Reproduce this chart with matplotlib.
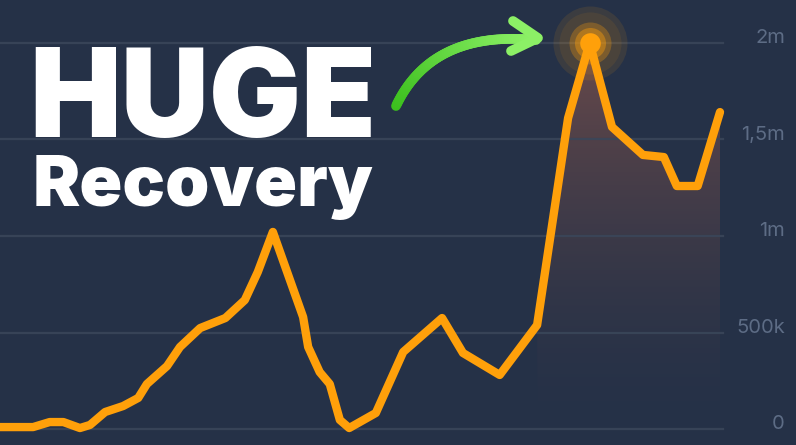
import matplotlib
matplotlib.use("Agg")
import matplotlib.pyplot as plt
from matplotlib.collections import LineCollection
from matplotlib.colors import to_rgb
import numpy as np

# data (k)
days = [0, 4.6, 6.9, 8.8, 11.1, 12.5, 14.6, 17.1, 19.2, 20.4, 23.2, 25.0, 27.8,
        31.3, 34.0, 35.8, 37.9, 42.1, 42.8, 44.4, 45.8, 47.2, 48.5, 52.2, 56.0,
        61.4, 64.3, 69.4, 74.6, 78.9, 81.9, 85.0, 89.3, 92.2, 94.0, 96.9, 100.0]
values = [10, 10, 36, 36, 5, 21, 88, 119, 161, 233, 326, 425, 523,
          575, 668, 813, 1021, 580, 425, 295, 233, 47, 5, 83, 399,
          575, 394, 280, 539, 1611, 2000, 1565, 1420, 1409, 1259, 1259, 1642]
tick_vals = [0, 500, 1000, 1500, 2000]
tick_labels = ["0", "500k", "1m", "1,5m", "2m"]
fill_from = 28  # index where the shaded area begins

bg = "#253147"
grid_c = "#3a4659"
lab_c = "#5d6c85"
orange = "#ffa00a"

W, H = 796, 445
fig = plt.figure(figsize=(W / 100, H / 100), dpi=100)
fig.patch.set_facecolor(bg)
ax = fig.add_axes([0, 0, 1, 1])
ax.set_facecolor(bg)
ax.set_xlim(0, W / 7.2)
ax.set_ylim((429 - 445) * 500 / 96.5, 429 * 500 / 96.5)
ax.axis("off")

for v, t in zip(tick_vals, tick_labels):
    ax.axhline(v, xmin=0, xmax=723 / W, color=grid_c, lw=1.6, alpha=0.9, zorder=3)
    ax.text(785 / 7.2, v + 25, t, ha="right", va="center", color=lab_c,
            fontsize=14.5, family=["Inter", "DejaVu Sans"])

# gradient fill under the recovery part
x_f = np.array(days[fill_from:])
y_f = np.array(values[fill_from:])
poly = ax.fill_between(x_f, y_f, 0, color="none", lw=0)
top = np.array(to_rgb("#6a4a4a"))
base = np.array(to_rgb(bg))
n = 200
t = np.linspace(1, 0, n)[:, None]
grad = (base + (top - base) * t ** 1.6)[:, None, :]
im = ax.imshow(grad, extent=[x_f[0], x_f[-1], 0, max(values)], aspect="auto",
               zorder=2, origin="upper")
im.set_clip_path(poly.get_paths()[0], transform=ax.transData)

ax.plot(days, values, color=orange, lw=6, solid_joinstyle="round",
        solid_capstyle="round", zorder=4)

# glow on the peak
i_pk = int(np.argmax(values))
for s, a in [(2840, 0.10), (2000, 0.08), (914, 0.28), (500, 0.4)]:
    ax.scatter(days[i_pk], values[i_pk], s=s, color=orange, alpha=a, lw=0, zorder=5)
ax.scatter(days[i_pk], values[i_pk], s=220, color=orange, lw=0, zorder=6)

# overlay in pixel coordinates for the title and arrow
ov = fig.add_axes([0, 0, 1, 1])
ov.set_xlim(0, W)
ov.set_ylim(H, 0)
ov.axis("off")
ov.patch.set_alpha(0)

ov.text(29, 137, "HUGE", color="white", fontsize=88, fontweight=900,
        family=["Inter", "DejaVu Sans"], va="baseline", ha="left")
ov.text(33, 206, "Recovery", color="white", fontsize=51, fontweight=900,
        family=["Inter", "DejaVu Sans"], va="baseline", ha="left")

# curved green arrow
p0 = np.array([396, 106])
pc = np.array([432, 30])
p1 = np.array([536, 40])
tt = np.linspace(0, 1, 80)[:, None]
pts = (1 - tt) ** 2 * p0 + 2 * (1 - tt) * tt * pc + tt ** 2 * p1
segs = np.stack([pts[:-1], pts[1:]], axis=1)
c0 = np.array(to_rgb("#3cbf1e"))
c1 = np.array(to_rgb("#8cf066"))
cols = c0 + (c1 - c0) * np.linspace(0, 1, len(segs))[:, None]
lc = LineCollection(segs, colors=cols, linewidths=7, capstyle="round", zorder=7)
ov.add_collection(lc)
ov.plot([513, 538, 511], [21, 38, 51], color="#8cf066", lw=7,
        solid_capstyle="round", solid_joinstyle="round", zorder=7)

fig.savefig("out.png", dpi=100, facecolor=bg)
